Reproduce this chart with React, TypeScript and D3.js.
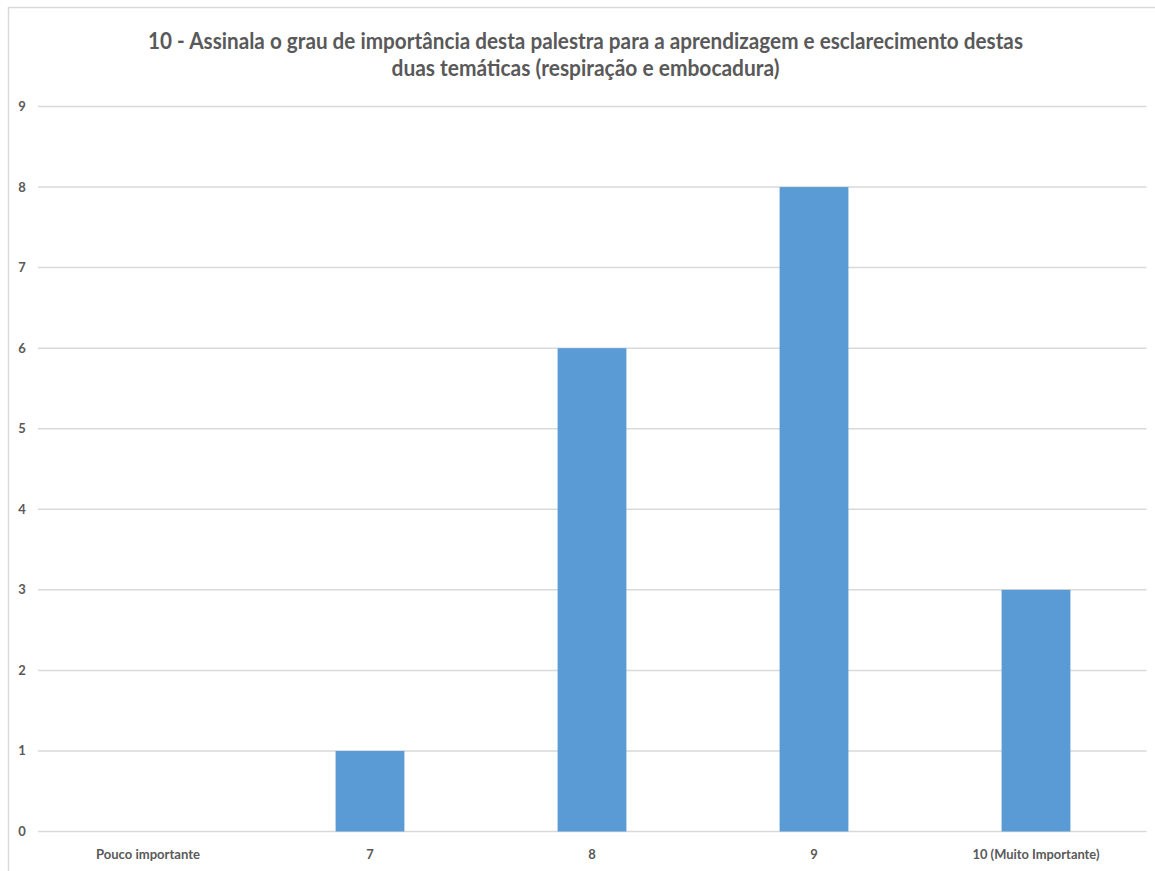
import React from "react";
import * as d3 from "d3";

// Survey question 10: importance rating of the talk
const titleLines = [
  "10 - Assinala o grau de importância desta palestra para a aprendizagem e esclarecimento destas",
  "duas temáticas (respiração e embocadura)",
];
const categories = ["Pouco importante", "7", "8", "9", "10 (Muito Importante)"];
const counts = [0, 1, 6, 8, 3];
const yTicks = [0, 1, 2, 3, 4, 5, 6, 7, 8, 9];

const W = 1155;
const H = 871;
const FONT = "Lato, 'Open Sans', 'Liberation Sans', sans-serif";
const TEXT = "#595959";
const GRID = "#d9d9d9";
const BAR = "#5b9bd5";

// Approximate rendered widths used to keep the condensed look of the labels
const titleWidths = [875, 388];
const xLabelWidths = [104, 8, 8, 8, 127];

export default function App() {
  const x = d3
    .scaleBand<string>()
    .domain(categories)
    .range([37, 1147])
    .paddingInner(0.69)
    .paddingOuter(0.345);
  const y = d3.scaleLinear().domain([0, 9]).range([831.5, 106.5]);

  return (
    <svg
      width={W}
      height={H}
      viewBox={`0 0 ${W} ${H}`}
      style={{ position: "absolute", left: 0, top: 0, background: "#fff" }}
    >
      <rect x={0} y={0} width={W} height={H} fill="#fff" />
      {/* chart frame (continues past the right and bottom edges) */}
      <rect x={8.5} y={7.5} width={W + 20} height={H + 20} fill="none" stroke={GRID} strokeWidth={1.5} />

      {/* title */}
      {titleLines.map((t, i) => (
        <text
          key={i}
          x={585.5}
          y={48.5 + i * 27}
          textAnchor="middle"
          fontFamily={FONT}
          fontWeight={700}
          fontSize={22}
          fill={TEXT}
          textLength={titleWidths[i]}
          lengthAdjust="spacingAndGlyphs"
        >
          {t}
        </text>
      ))}

      {/* gridlines and y tick labels */}
      {yTicks.map((v) => (
        <g key={v}>
          <line x1={38} x2={1146.5} y1={y(v)} y2={y(v)} stroke={GRID} strokeWidth={1.5} />
          <text
            x={22}
            y={y(v)}
            dy="0.35em"
            textAnchor="middle"
            fontFamily={FONT}
            fontWeight={700}
            fontSize={13}
            fill={TEXT}
          >
            {v}
          </text>
        </g>
      ))}

      {/* bars */}
      {categories.map((c, i) =>
        counts[i] > 0 ? (
          <rect
            key={c}
            x={x(c)}
            y={y(counts[i])}
            width={x.bandwidth()}
            height={y(0) - y(counts[i])}
            fill={BAR}
          />
        ) : null
      )}

      {/* x category labels */}
      {categories.map((c, i) => (
        <text
          key={c}
          x={(x(c) as number) + x.bandwidth() / 2}
          y={858.5}
          textAnchor="middle"
          fontFamily={FONT}
          fontWeight={700}
          fontSize={13}
          fill={TEXT}
          {...(c.length > 2 ? { textLength: xLabelWidths[i], lengthAdjust: "spacingAndGlyphs" } : {})}
        >
          {c}
        </text>
      ))}
    </svg>
  );
}
